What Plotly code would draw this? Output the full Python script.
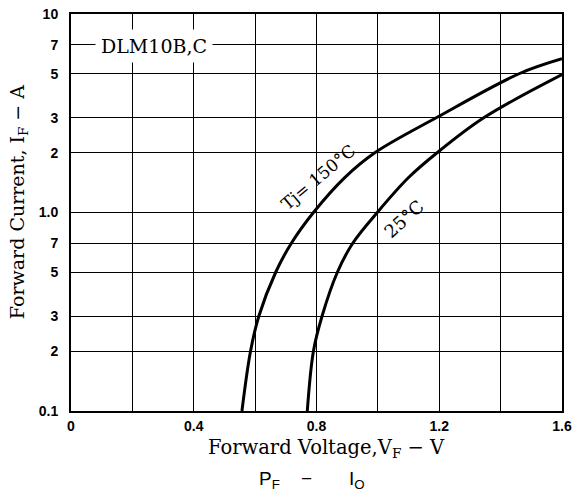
import plotly.graph_objects as go

# Tj = 150°C curve (forward voltage V, forward current A)
v_150 = [0.557, 0.585, 0.612, 0.667, 0.718, 0.79, 0.892, 0.99, 1.19, 1.46, 1.6]
i_150 = [0.1, 0.2, 0.3, 0.5, 0.7, 1.0, 1.5, 2.0, 3.0, 5.0, 5.95]

# Tj = 25°C curve
v_25 = [0.77, 0.79, 0.818, 0.868, 0.918, 0.998, 1.10, 1.193, 1.345, 1.6]
i_25 = [0.1, 0.2, 0.3, 0.5, 0.7, 1.0, 1.5, 2.0, 3.0, 4.95]

x_tickvals = [0, 0.2, 0.4, 0.6, 0.8, 1.0, 1.2, 1.4, 1.6]
x_ticktext = ["0", "", "0.4", "", "0.8", "", "1.2", "", "1.6"]
y_tickvals = [0.1, 0.2, 0.3, 0.5, 0.7, 1, 2, 3, 5, 7, 10]
y_ticktext = ["0.1", "2", "3", "5", "7", "1.0", "2", "3", "5", "7", "10"]

SERIF = "DejaVu Serif"
SANS = "Liberation Sans"
NB = "\u00a0"

fig = go.Figure()
fig.add_trace(go.Scatter(x=v_150, y=i_150, mode="lines",
                         line=dict(color="black", width=3, shape="spline", smoothing=1.0),
                         showlegend=False))
fig.add_trace(go.Scatter(x=v_25, y=i_25, mode="lines",
                         line=dict(color="black", width=3, shape="spline", smoothing=1.0),
                         showlegend=False))

fig.update_xaxes(range=[0, 1.6], tickvals=x_tickvals, ticktext=x_ticktext,
                 showgrid=True, gridcolor="black", gridwidth=1.3,
                 showline=True, linecolor="black", linewidth=2, mirror=True,
                 ticks="", ticklabelstandoff=1, zeroline=False, automargin=False,
                 tickfont=dict(family=SANS, size=14, color="black", weight="bold"))
fig.update_yaxes(type="log", range=[-1, 1], tickvals=y_tickvals, ticktext=y_ticktext,
                 showgrid=True, gridcolor="black", gridwidth=1.3,
                 showline=True, linecolor="black", linewidth=2, mirror=True,
                 ticks="", ticklabelstandoff=8, zeroline=False, automargin=False,
                 tickfont=dict(family=SANS, size=14, color="black", weight="bold"))

annotations = [
    dict(x=0.27, y=0.84, xref="x", yref="y", text="DLM10B,C", showarrow=False,
         font=dict(family=SERIF, size=19, color="black"), bgcolor="white", borderpad=5),
    dict(x=0.806, y=0.179, xref="x", yref="y", text="Tj= 150°C", showarrow=False,
         textangle=-40, font=dict(family=SERIF, size=17, color="black")),
    dict(x=1.086, y=-0.03, xref="x", yref="y", text="25°C", showarrow=False,
         textangle=-42, font=dict(family=SERIF, size=18, color="black")),
    dict(x=-0.108, y=0.526, xref="paper", yref="paper", text="Forward Current, I<sub>F</sub> − A",
         showarrow=False, textangle=-90, xanchor="center", yanchor="middle",
         font=dict(family=SERIF, size=19, color="black")),
    dict(x=0.521, y=-0.095, xref="paper", yref="paper", text="Forward Voltage,V<sub>F</sub> − V",
         showarrow=False, xanchor="center", yanchor="middle",
         font=dict(family=SERIF, size=19.5, color="black")),
    dict(x=0.378, y=-0.174, xref="paper", yref="paper",
         text="P<sub>F</sub>" + NB * 4 + "−" + NB * 7 + "I<sub>O</sub>",
         showarrow=False, xanchor="left", yanchor="middle",
         font=dict(family=SANS, size=19, color="black")),
]

fig.update_layout(width=572, height=493, margin=dict(l=71, r=10, t=14, b=82),
                  plot_bgcolor="white", paper_bgcolor="white",
                  annotations=annotations, showlegend=False)

fig.write_html("out.html", config={"displayModeBar": False},
               post_script="document.body.style.margin='0px';document.body.style.padding='0px';")
